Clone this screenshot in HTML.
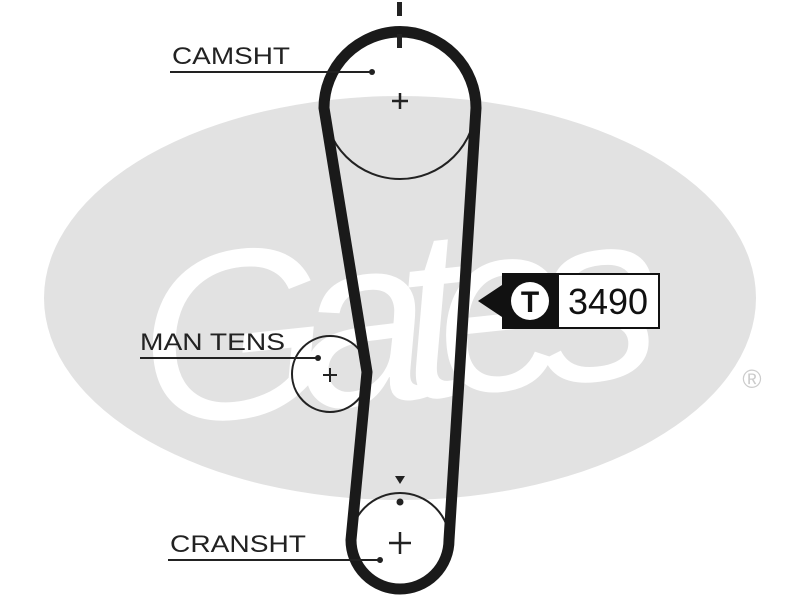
<!DOCTYPE html>
<html><head><style>
html,body{margin:0;padding:0;background:#fff;}
svg{display:block;}
text{font-family:"Liberation Sans",sans-serif;}
</style></head><body>
<svg width="800" height="600" viewBox="0 0 800 600">
<ellipse cx="400" cy="298" rx="356" ry="202" fill="#e2e2e2"/>
<text x="400" y="400" font-family="Liberation Serif" font-style="italic" font-size="240" fill="#fff" text-anchor="middle" textLength="520" transform="rotate(-6 400 330)">Gates</text>
<text x="752" y="388" font-size="26" fill="#ccc" text-anchor="middle">®</text>
<!-- pulleys -->
<circle cx="400" cy="103" r="76" fill="none" stroke="#222" stroke-width="2"/>
<circle cx="330" cy="374" r="38" fill="none" stroke="#222" stroke-width="2"/>
<circle cx="400" cy="543" r="50" fill="none" stroke="#222" stroke-width="2"/>
<!-- belt -->
<path d="M 324,108 A 76 76 0 0 1 476,108 L 449,540 A 49 49 0 0 1 351,540 L 367,372 Z" fill="none" stroke="#1a1a1a" stroke-width="11" stroke-linejoin="round"/>
<!-- marks -->
<rect x="397" y="2" width="5" height="14" fill="#222"/>
<rect x="397" y="34" width="5" height="14" fill="#222"/>
<path d="M392,101h16M400,93v16" stroke="#222" stroke-width="2.5"/>
<path d="M323,375h14M330,368v14" stroke="#222" stroke-width="2"/>
<path d="M389,543h22M400,532v22" stroke="#222" stroke-width="2.5"/>
<path d="M395,476h10l-5,8z" fill="#222"/>
<circle cx="400" cy="502" r="3.5" fill="#222"/>
<!-- labels -->
<text x="172" y="64" font-size="24" fill="#222" textLength="118" lengthAdjust="spacingAndGlyphs">CAMSHT</text>
<line x1="170" y1="72" x2="372" y2="72" stroke="#222" stroke-width="2"/><circle cx="372" cy="72" r="3" fill="#222"/>
<text x="140" y="350" font-size="24" fill="#222" textLength="145" lengthAdjust="spacingAndGlyphs">MAN TENS</text>
<line x1="140" y1="358" x2="318" y2="358" stroke="#222" stroke-width="2"/><circle cx="318" cy="358" r="3" fill="#222"/>
<text x="170" y="552" font-size="24" fill="#222" textLength="136" lengthAdjust="spacingAndGlyphs">CRANSHT</text>
<line x1="168" y1="560" x2="380" y2="560" stroke="#222" stroke-width="2"/><circle cx="380" cy="560" r="3" fill="#222"/>
<!-- T label -->
<path d="M478,301 L502,285 L502,273 L558,273 L558,329 L502,329 L502,317 Z" fill="#111"/>
<rect x="558" y="274" width="101" height="54" fill="#fff" stroke="#111" stroke-width="2"/>
<circle cx="530" cy="301" r="19" fill="#fff"/>
<text x="530" y="312" font-size="30" font-weight="bold" fill="#111" text-anchor="middle">T</text>
<text x="608" y="314" font-size="36" fill="#111" text-anchor="middle">3490</text>
</svg>
</body></html>
